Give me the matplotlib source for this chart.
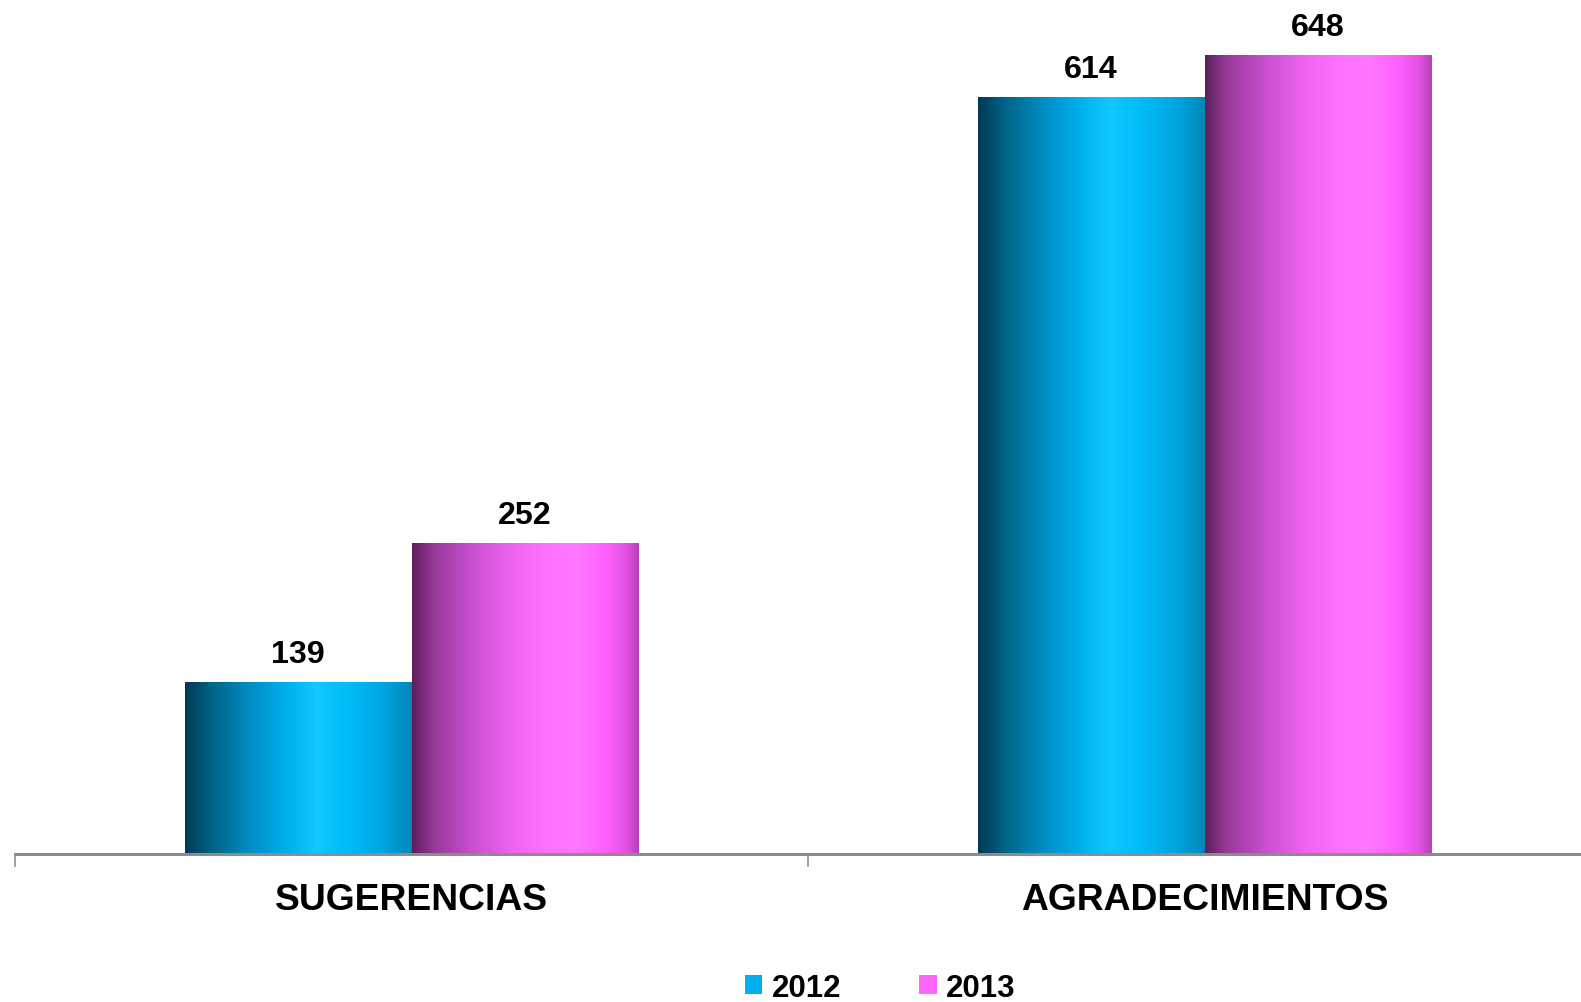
import matplotlib
matplotlib.use("Agg")
import matplotlib.pyplot as plt
from matplotlib.colors import LinearSegmentedColormap
from matplotlib.patches import Patch
import numpy as np

# chart data
categories = ["SUGERENCIAS", "AGRADECIMIENTOS"]
years = ["2012", "2013"]
values_2012 = [139, 614]
values_2013 = [252, 648]

plt.rcParams["font.family"] = ["Liberation Sans", "DejaVu Sans"]
plt.rcParams["font.weight"] = "bold"

# cylinder-like shading for each series
cmap_2012 = LinearSegmentedColormap.from_list("c2012", [
    (0.0, "#003a55"), (0.12, "#006488"), (0.3, "#0090c8"), (0.45, "#00b0ea"),
    (0.58, "#12c8ff"), (0.72, "#00bcf8"), (0.88, "#00a4de"), (1.0, "#0086b8")])
cmap_2013 = LinearSegmentedColormap.from_list("c2013", [
    (0.0, "#5c1f5c"), (0.1, "#9a3a9a"), (0.28, "#cc52d2"), (0.45, "#f064f2"),
    (0.58, "#ff70ff"), (0.72, "#ff78ff"), (0.86, "#ff60ff"), (0.95, "#e050e0"), (1.0, "#b840b8")])
base_2012 = "#00b0f0"
base_2013 = "#ff66ff"

W, H = 1581, 1003
fig = plt.figure(figsize=(W / 100, H / 100), dpi=100)
# axes spans a bit past the right edge like the original
ax_left, ax_right = 15 / W, 1601 / W
ax_bottom = (H - 855) / H
ymax = 700
px_per_unit = (855 - 56.5) / 648
ax = fig.add_axes([ax_left, ax_bottom, ax_right - ax_left, ymax * px_per_unit / H])

x = np.arange(len(categories))
width = 0.286
bars1 = ax.bar(x - width / 2, values_2012, width, color="none", edgecolor="none")
bars2 = ax.bar(x + width / 2, values_2013, width, color="none", edgecolor="none")

grad = np.linspace(0, 1, 256).reshape(1, -1)
for bars, cmap in [(bars1, cmap_2012), (bars2, cmap_2013)]:
    for b in bars:
        x0, h = b.get_x(), b.get_height()
        ax.imshow(grad, cmap=cmap, aspect="auto", interpolation="bicubic",
                  extent=(x0, x0 + b.get_width(), 0, h), zorder=2)
        ax.text(x0 + b.get_width() / 2, h + 11, f"{h:g}", ha="center", va="bottom",
                fontsize=23.2, fontweight="bold", color="black")

ax.set_xlim(-0.5, 1.5)
ax.set_ylim(0, ymax)
ax.set_xticks([-0.5, 0.5, 1.5], minor=False)
ax.set_xticklabels([])
ax.set_xticks(x, minor=True)
ax.set_xticklabels(categories, minor=True, fontsize=26.8, fontweight="bold")
ax.tick_params(axis="x", which="major", length=9, width=1.2, color="#909090")
ax.tick_params(axis="x", which="minor", length=0, pad=20)
ax.set_yticks([])
for s in ["top", "right", "left"]:
    ax.spines[s].set_visible(False)
ax.spines["bottom"].set_color("#8c8c8c")
ax.spines["bottom"].set_linewidth(2.2)

handles = [Patch(facecolor=base_2012), Patch(facecolor=base_2013)]
fig.legend(handles, years, loc="lower center", bbox_to_anchor=(880 / W, -0.029), ncol=2,
           frameon=False, handlelength=0.56, handleheight=0.56,
           handletextpad=0.3, columnspacing=2.5,
           prop={"weight": "bold", "size": 22.5})

fig.savefig("out.png", dpi=100)
